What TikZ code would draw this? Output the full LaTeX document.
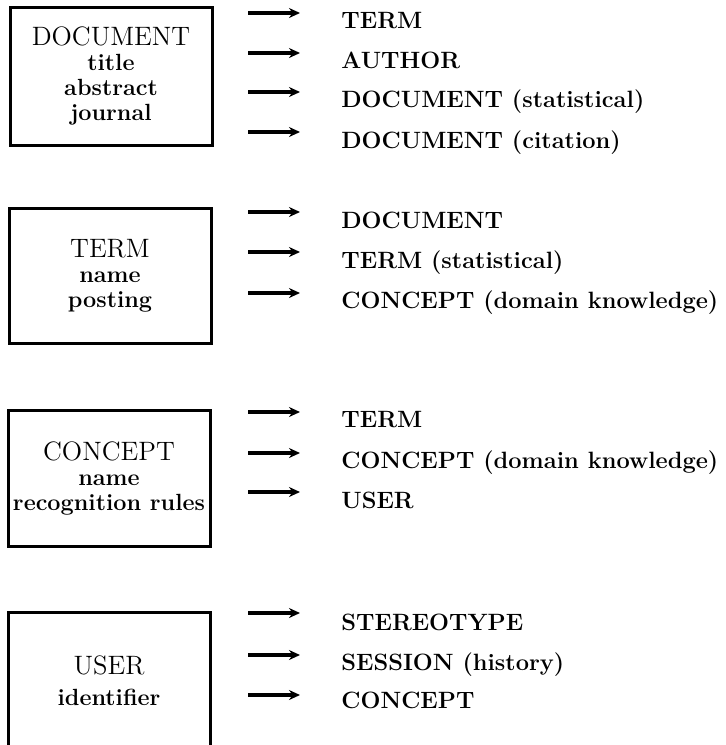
\documentclass[tikz,border=0pt]{standalone}
\usetikzlibrary{arrows.meta}

\newcommand{\headfont}{\fontsize{13.3}{13.5}\selectfont\mdseries}
\newcommand{\subfont}{\fontsize{11.7}{12.5}\selectfont\bfseries}
\newcommand{\targetfont}{\fontsize{11.8}{13}\selectfont\bfseries}

\begin{document}
\begin{tikzpicture}[
    x=0.5pt, y=-0.5pt,
    text=black,
    >={Stealth[length=5.5pt, width=5pt]},
    entity/.style={draw=black, line width=1.5pt, minimum width=101pt, align=center,
                   inner sep=1pt, font=\subfont},
    target/.style={anchor=base west, inner sep=0pt, font=\targetfont},
    arrowline/.style={->, line width=1.8pt}
]

\useasboundingbox (0,0) rectangle (726,745);

% ==================== DOCUMENT ====================
\node[entity, minimum height=69pt] (doc) at (111,76)
    {{\headfont DOCUMENT}\\title\\abstract\\journal};

\node[target] (d1) at (341,28) {TERM};
\node[target] (d2) at (341,68) {AUTHOR};
\node[target] (d3) at (341,107) {DOCUMENT (statistical)};
\node[target] (d4) at (341,148) {DOCUMENT (citation)};

\draw[arrowline] ([xshift=-46.5pt, yshift=7.5pt]d1.base west) -- ([xshift=-20.5pt, yshift=7.5pt]d1.base west);
\draw[arrowline] ([xshift=-46.5pt, yshift=7.5pt]d2.base west) -- ([xshift=-20.5pt, yshift=7.5pt]d2.base west);
\draw[arrowline] ([xshift=-46.5pt, yshift=7.5pt]d3.base west) -- ([xshift=-20.5pt, yshift=7.5pt]d3.base west);
\draw[arrowline] ([xshift=-46.5pt, yshift=8pt]d4.base west) -- ([xshift=-20.5pt, yshift=8pt]d4.base west);

% ==================== TERM ====================
\node[entity, minimum height=67.5pt] (term) at (110,275.5)
    {{\headfont TERM}\\name\\posting};

\node[target] (t1) at (341,228) {DOCUMENT};
\node[target] (t2) at (341,268) {TERM (statistical)};
\node[target] (t3) at (341,308) {CONCEPT (domain knowledge)};

\draw[arrowline] ([xshift=-46.5pt, yshift=8pt]t1.base west) -- ([xshift=-20.5pt, yshift=8pt]t1.base west);
\draw[arrowline] ([xshift=-46.5pt, yshift=8pt]t2.base west) -- ([xshift=-20.5pt, yshift=8pt]t2.base west);
\draw[arrowline] ([xshift=-46.5pt, yshift=7.5pt]t3.base west) -- ([xshift=-20.5pt, yshift=7.5pt]t3.base west);

% ==================== CONCEPT ====================
\node[entity, minimum height=68pt] (concept) at (109,478)
    {{\headfont CONCEPT}\\name\\recognition rules};

\node[target] (c1) at (341,427) {TERM};
\node[target] (c2) at (341,468) {CONCEPT (domain knowledge)};
\node[target] (c3) at (341,508) {USER};

\draw[arrowline] ([xshift=-46.5pt, yshift=7.5pt]c1.base west) -- ([xshift=-20.5pt, yshift=7.5pt]c1.base west);
\draw[arrowline] ([xshift=-46.5pt, yshift=7.5pt]c2.base west) -- ([xshift=-20.5pt, yshift=7.5pt]c2.base west);
\draw[arrowline] ([xshift=-46.5pt, yshift=8pt]c3.base west) -- ([xshift=-20.5pt, yshift=8pt]c3.base west);

% ==================== USER ====================
\node[entity, minimum height=69pt] (user) at (109,681)
    {{\headfont USER}\\[3pt]identifier};

\node[target] (u1) at (341,630) {STEREOTYPE};
\node[target] (u2) at (341,670) {SESSION (history)};
\node[target] (u3) at (341,708) {CONCEPT};

\draw[arrowline] ([xshift=-46.5pt, yshift=8.5pt]u1.base west) -- ([xshift=-20.5pt, yshift=8.5pt]u1.base west);
\draw[arrowline] ([xshift=-46.5pt, yshift=7.5pt]u2.base west) -- ([xshift=-20.5pt, yshift=7.5pt]u2.base west);
\draw[arrowline] ([xshift=-46.5pt, yshift=6.5pt]u3.base west) -- ([xshift=-20.5pt, yshift=6.5pt]u3.base west);

\end{tikzpicture}
\end{document}
